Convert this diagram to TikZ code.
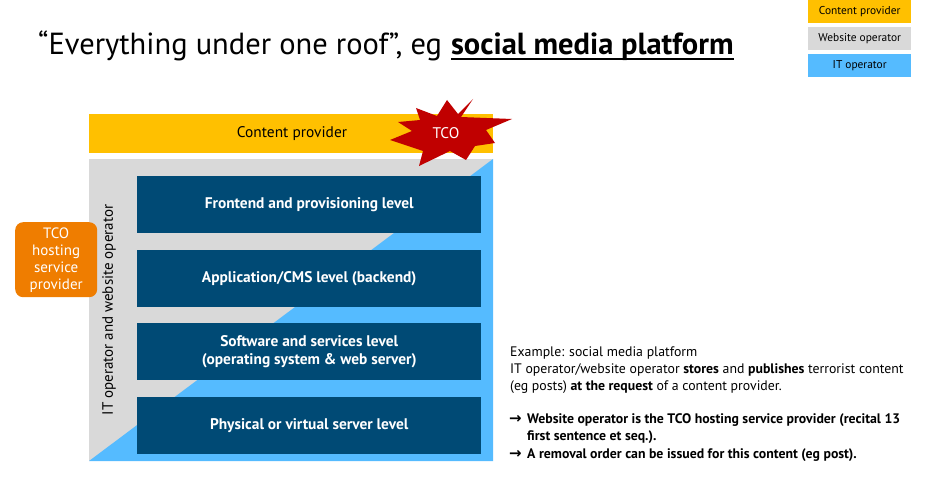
\documentclass[tikz,border=0pt]{standalone}
\usepackage{fontspec}
\setmainfont{PT Sans}
\newfontfamily\arrowfont{DejaVu Sans}
\usetikzlibrary{positioning}
\definecolor{cpyellow}{HTML}{FFC000}
\definecolor{wogray}{HTML}{D9D9D9}
\definecolor{itblue}{HTML}{55BBFF}
\definecolor{lvblue}{HTML}{004A75}
\definecolor{tcoorange}{HTML}{EF7D00}
\definecolor{tcored}{HTML}{C00000}
\tikzset{
  levelbox/.style={fill=lvblue, draw=none, minimum width=344pt, minimum height=57pt, inner sep=0pt,
    text=white, font=\fontsize{15.4}{18.5}\selectfont\bfseries, align=center},
  legendbox/.style={draw=none, minimum width=103pt, minimum height=23pt, inner sep=0pt,
    font=\fontsize{11.4}{13}\selectfont},
  bodyline/.style={font=\fontsize{13.8}{17}\selectfont, anchor=base west, inner sep=0pt},
  boldline/.style={bodyline, font=\fontsize{13.8}{17}\selectfont\bfseries},
  arrowglyph/.style={anchor=base west, inner sep=0pt, font=\arrowfont\fontsize{15}{17}\selectfont\bfseries}
}
\newcommand{\thickul}[1]{\tikz[baseline=(u.base)]{\node[inner sep=0pt,outer sep=0pt] (u) {#1};
  \draw[line width=1.8pt] ([yshift=-4pt]u.base west) -- ([yshift=-4pt]u.base east);}}
\begin{document}
\begin{tikzpicture}[x=1pt,y=-1pt]
\useasboundingbox (0,0) rectangle (942,484);
% title
\node[anchor=base west, inner sep=0pt, font=\fontsize{30.5}{34}\selectfont] (title) at (38,55)
  {“Everything under one roof”, eg \thickul{\textbf{social media platform}}};
% legend
\node[legendbox, fill=cpyellow, anchor=north west] (lg1) at (808,0) {Content provider};
\node[legendbox, fill=wogray, anchor=north west] (lg2) at (808,27) {Website operator};
\node[legendbox, fill=itblue, anchor=north west] (lg3) at (808,54) {IT operator};
% content provider bar
\fill[cpyellow] (89,114) rectangle (493,153);
\node[font=\fontsize{15.4}{18}\selectfont] (cp) at (292,134) {Content provider};
% operator panel
\fill[wogray] (89,159) rectangle (493,461);
\fill[itblue] (493,159) -- (493,461) -- (89,461) -- cycle;
\node[rotate=90, font=\fontsize{15}{18}\selectfont] (itwo) at (109,310) {IT operator and website operator};
% levels
\node[levelbox, anchor=north west] (l1) at (137,176) {Frontend and provisioning level};
\node[levelbox, anchor=north west] (l2) at (137,250) {Application/CMS level (backend)};
\node[levelbox, anchor=north west] (l3) at (137,323) {Software and services level\\(operating system \& web server)};
\node[levelbox, anchor=north west] (l4) at (137,397) {Physical or virtual server level};
% TCO star
\fill[tcored] (473,99) -- (461,117) -- (512,119) -- (486,130) -- (495,143) -- (475,146) -- (466,160)
  -- (450,151) -- (419,166) -- (423,151) -- (390,140) -- (412,131) -- (398,122) -- (420,120)
  -- (416,108) -- (437,116) -- (447,100) -- (458,114) -- cycle;
\node[text=white, font=\fontsize{15.4}{18}\selectfont] (tco) at (446,133) {TCO};
% hosting service provider
\node[fill=tcoorange, rounded corners=8pt, text=white, minimum width=82pt, minimum height=75pt,
  inner sep=0pt, align=center, font=\fontsize{15}{17}\selectfont, anchor=north west] (hsp) at (15,222)
  {TCO\\hosting\\service\\provider};
% explanation
\node[bodyline] (ex1) at (510,356) {Example: social media platform};
\node[bodyline] (ex2) at (510,373) {IT operator/website operator \textbf{stores} and \textbf{publishes} terrorist content};
\node[bodyline] (ex3) at (510,390) {(eg posts) \textbf{at the request} of a content provider.};
\node[arrowglyph] (a1) at (509,423) {→};
\node[boldline] (c1a) at (527,423) {Website operator is the TCO hosting service provider (recital 13};
\node[boldline] (c1b) at (527,440) {first sentence et seq.).};
\node[arrowglyph] (a2) at (509,458) {→};
\node[boldline] (c2) at (527,458) {A removal order can be issued for this content (eg post).};
\end{tikzpicture}
\end{document}
